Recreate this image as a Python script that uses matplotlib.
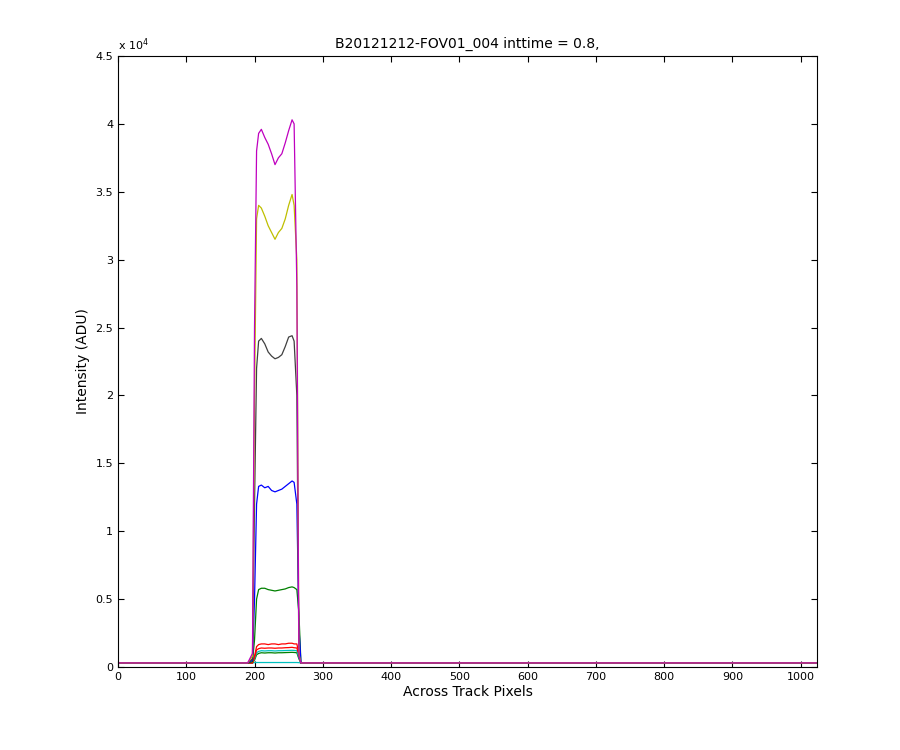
import matplotlib
matplotlib.use("Agg")
import matplotlib.pyplot as plt

x = [0,190,197,200,203,206,210,215,220,225,230,235,240,245,250,255,258,262,265,268,280,1024]
magenta = [300,300,1000,25000,38000,39300,39600,39000,38500,37800,37000,37500,37800,38600,39500,40300,40000,28000,800,300,300,300]
yellow  = [300,300,800,20000,33000,34000,33800,33200,32500,32000,31500,32000,32300,33000,34000,34800,34000,30000,1000,300,300,300]
black   = [300,300,600,12000,22000,24000,24200,23800,23200,22900,22700,22800,23000,23600,24300,24400,24000,20000,800,300,300,300]
blue    = [300,300,500,5000,12000,13300,13400,13200,13300,13000,12900,13000,13100,13300,13500,13700,13600,12000,3000,300,300,300]
green   = [300,300,400,2000,5000,5700,5800,5800,5700,5650,5600,5650,5700,5750,5850,5900,5850,5700,4000,300,300,300]
red     = [300,300,300,800,1500,1650,1700,1700,1650,1700,1700,1650,1700,1700,1750,1750,1700,1700,1000,300,300,300]
red2    = [300,300,300,700,1250,1350,1400,1380,1400,1400,1380,1400,1400,1420,1430,1450,1420,1400,900,300,300,300]
cyan    = [300,300,300,600,1050,1150,1200,1180,1200,1200,1180,1200,1200,1210,1220,1230,1220,1200,700,300,300,300]
green2  = [300,300,300,500,900,1000,1050,1030,1050,1050,1030,1050,1050,1060,1070,1080,1070,1050,600,300,300,300]
cyan2   = [300,300,300,320,330,330,330,330,330,330,330,330,330,330,330,330,330,330,320,300,300,300]

series = [(cyan2,'c'),(green2,'g'),(cyan,'c'),(red2,'r'),(red,'r'),(green,'g'),(blue,'b'),(black,'#404040'),(yellow,'y'),(magenta,'m')]
colors = {'c':'#00bfbf','g':'#008000','r':'#ff0000','b':'#0000ff','y':'#bfbf00','m':'#bf00bf'}

fig = plt.figure(figsize=(9,7.5), dpi=100)
ax = fig.add_axes([118/900, 1-667/750, (817-118)/900, (667-56)/750])
for ys, c in series:
    ax.plot(x, ys, color=colors.get(c, c), lw=0.9)
ax.set_xlim(0,1024)
ax.set_ylim(0,45000)
ax.set_xticks(range(0,1001,100))
ax.set_yticks([i*5000 for i in range(10)])
ax.set_yticklabels(['0','0.5','1','1.5','2','2.5','3','3.5','4','4.5'])
ax.tick_params(direction='in', labelsize=8, top=True, right=True, length=4)
ax.text(0, 1.005, r'x 10$^4$', transform=ax.transAxes, fontsize=8, ha='left', va='bottom')
ax.set_title('B20121212-FOV01_004 inttime = 0.8,', fontsize=10)
ax.set_xlabel('Across Track Pixels', fontsize=10, labelpad=2)
ax.set_ylabel('Intensity (ADU)', fontsize=10)
fig.savefig('out.png')
